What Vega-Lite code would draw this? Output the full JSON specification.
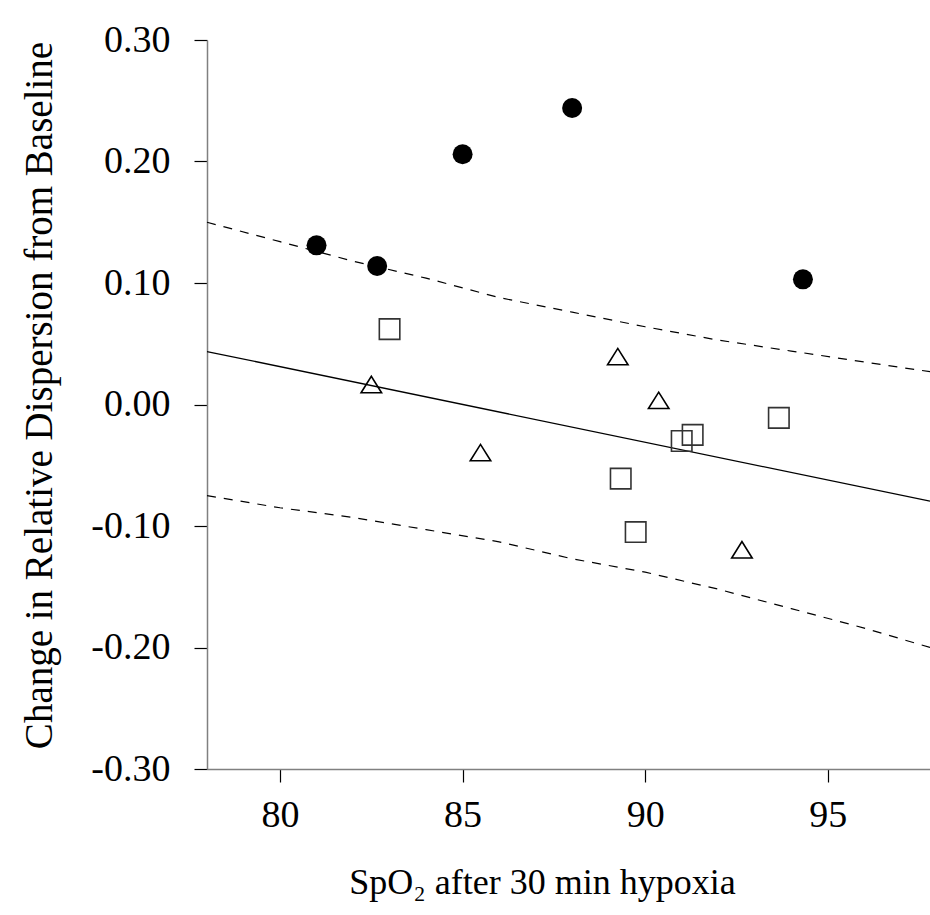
{
  "$schema": "https://vega.github.io/schema/vega-lite/v6.json",
  "autosize": "none",
  "width": 723,
  "height": 729,
  "padding": {"left": 207, "top": 40, "right": 0, "bottom": 146},
  "background": "white",
  "config": {
    "view": {"stroke": null},
    "font": "Liberation Serif",
    "axis": {
      "labelFont": "Liberation Serif",
      "titleFont": "Liberation Serif",
      "labelColor": "black",
      "titleColor": "black",
      "titleFontWeight": "normal",
      "domainColor": "#808080",
      "domainWidth": 1.5,
      "tickColor": "black",
      "tickWidth": 1.2,
      "tickSize": 13,
      "grid": false
    }
  },
  "datasets": {
    "points": [
      {"spo2": 81.0, "change": 0.131, "group": "circle"},
      {"spo2": 82.66, "change": 0.114, "group": "circle"},
      {"spo2": 85.0, "change": 0.206, "group": "circle"},
      {"spo2": 88.0, "change": 0.244, "group": "circle"},
      {"spo2": 94.32, "change": 0.103, "group": "circle"},
      {"spo2": 83.0, "change": 0.062, "group": "square"},
      {"spo2": 89.33, "change": -0.061, "group": "square"},
      {"spo2": 89.74, "change": -0.105, "group": "square"},
      {"spo2": 91.0, "change": -0.030, "group": "square"},
      {"spo2": 91.3, "change": -0.025, "group": "square"},
      {"spo2": 93.66, "change": -0.011, "group": "square"},
      {"spo2": 82.5, "change": 0.016, "group": "triangle"},
      {"spo2": 85.49, "change": -0.040, "group": "triangle"},
      {"spo2": 89.25, "change": 0.039, "group": "triangle"},
      {"spo2": 90.37, "change": 0.003, "group": "triangle"},
      {"spo2": 92.65, "change": -0.120, "group": "triangle"}
    ],
    "lines": [
      {"spo2": 78, "change": 0.0436, "series": "fit"},
      {"spo2": 97.8, "change": -0.0796, "series": "fit"},
      {"spo2": 78, "change": 0.150, "series": "upper"},
      {"spo2": 80, "change": 0.134, "series": "upper"},
      {"spo2": 82, "change": 0.118, "series": "upper"},
      {"spo2": 84, "change": 0.104, "series": "upper"},
      {"spo2": 86, "change": 0.088, "series": "upper"},
      {"spo2": 88, "change": 0.076, "series": "upper"},
      {"spo2": 90, "change": 0.064, "series": "upper"},
      {"spo2": 92, "change": 0.053, "series": "upper"},
      {"spo2": 94, "change": 0.044, "series": "upper"},
      {"spo2": 96, "change": 0.035, "series": "upper"},
      {"spo2": 97.8, "change": 0.027, "series": "upper"},
      {"spo2": 78, "change": -0.075, "series": "lower"},
      {"spo2": 80, "change": -0.085, "series": "lower"},
      {"spo2": 82, "change": -0.093, "series": "lower"},
      {"spo2": 84, "change": -0.103, "series": "lower"},
      {"spo2": 86, "change": -0.113, "series": "lower"},
      {"spo2": 88, "change": -0.127, "series": "lower"},
      {"spo2": 90, "change": -0.138, "series": "lower"},
      {"spo2": 92, "change": -0.152, "series": "lower"},
      {"spo2": 94, "change": -0.168, "series": "lower"},
      {"spo2": 96, "change": -0.184, "series": "lower"},
      {"spo2": 97.8, "change": -0.200, "series": "lower"}
    ]
  },
  "encoding": {
    "x": {
      "field": "spo2",
      "type": "quantitative",
      "scale": {"domain": [78, 97.8], "nice": false, "zero": false},
      "axis": {
        "values": [80, 85, 90, 95],
        "title": "SpO₂ after 30 min hypoxia",
        "labelFontSize": 38,
        "labelPadding": 14,
        "titleFontSize": 36,
        "titleX": 335,
        "titleY": 124,
        "titleBaseline": "alphabetic",
        "titleAnchor": "middle"
      }
    },
    "y": {
      "field": "change",
      "type": "quantitative",
      "scale": {"domain": [-0.3, 0.3], "nice": false, "zero": false},
      "axis": {
        "values": [-0.3, -0.2, -0.1, 0, 0.1, 0.2, 0.3],
        "labelExpr": "datum.value < 0 ? '-' + format(-datum.value, '.2f') : format(datum.value, '.2f')",
        "title": "Change in Relative Dispersion from Baseline",
        "labelFontSize": 38,
        "labelPadding": 24,
        "titleFontSize": 39,
        "titlePadding": 31,
        "titleY": 355
      }
    }
  },
  "layer": [
    {
      "mark": {"type": "rule", "color": "#d0d0d0", "strokeWidth": 1.5},
      "encoding": {"y": {"datum": 0}, "x": null}
    },
    {
      "mark": {"type": "rule", "color": "#808080", "strokeWidth": 1.5},
      "encoding": {"y": {"datum": 0.3}, "x": null}
    },
    {
      "data": {"name": "lines"},
      "transform": [{"filter": "datum.series === 'fit'"}],
      "mark": {"type": "line", "color": "black", "strokeWidth": 1.3},
      "encoding": {"detail": {"field": "series"}}
    },
    {
      "data": {"name": "lines"},
      "transform": [{"filter": "datum.series !== 'fit'"}],
      "mark": {"type": "line", "color": "black", "strokeWidth": 1.2, "strokeDash": [9, 8]},
      "encoding": {"detail": {"field": "series"}}
    },
    {
      "data": {"name": "points"},
      "transform": [{"filter": "datum.group === 'circle'"}],
      "mark": {"type": "point", "shape": "circle", "filled": true, "color": "black", "size": 400, "opacity": 1}
    },
    {
      "data": {"name": "points"},
      "transform": [{"filter": "datum.group === 'square'"}],
      "mark": {"type": "point", "shape": "square", "filled": false, "fill": "white", "fillOpacity": 0, "stroke": "#333", "strokeWidth": 1.6, "size": 420, "opacity": 1}
    },
    {
      "data": {"name": "points"},
      "transform": [{"filter": "datum.group === 'triangle'"}],
      "mark": {"type": "point", "shape": "M-1,0.75L1,0.75L0,-0.85Z", "filled": false, "stroke": "black", "strokeWidth": 1.6, "size": 420, "opacity": 1}
    }
  ]
}
